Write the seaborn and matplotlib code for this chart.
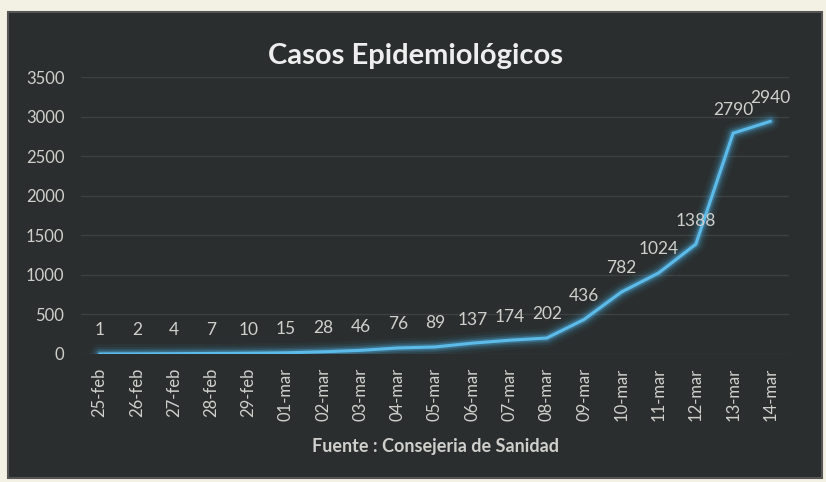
import pandas as pd
import matplotlib.pyplot as plt
import seaborn as sns
from matplotlib.patches import Rectangle

# Data
fechas = ['25-feb', '26-feb', '27-feb', '28-feb', '29-feb', '01-mar', '02-mar',
          '03-mar', '04-mar', '05-mar', '06-mar', '07-mar', '08-mar', '09-mar',
          '10-mar', '11-mar', '12-mar', '13-mar', '14-mar']
casos = [1, 2, 4, 7, 10, 15, 28, 46, 76, 89, 137, 174, 202, 436, 782, 1024,
         1388, 2790, 2940]
y_ticks = [0, 500, 1000, 1500, 2000, 2500, 3000, 3500]

df = pd.DataFrame({'Fecha': fechas, 'Casos': casos})
df['pos'] = range(len(df))

sns.set_style("dark")
plt.rcParams['font.family'] = ['Lato', 'DejaVu Sans']

bg = '#2a2e2e'
txt = '#cfd0cc'
blue = '#4aa6d6'

fig = plt.figure(figsize=(8.26, 4.82), dpi=100)
fig.patch.set_facecolor('#f3f1e4')
fig.patches.append(Rectangle((8 / 826, 4 / 482), 814 / 826, 466 / 482,
                             transform=fig.transFigure, facecolor=bg,
                             edgecolor='#555555', linewidth=1.5, zorder=-10))

ax = fig.add_axes([81 / 826, 128 / 482, 708 / 826, 277 / 482])
ax.set_facecolor(bg)
ax.patch.set_alpha(0)

# glow under the line
for lw, a in [(14, 0.06), (10, 0.1), (7, 0.18), (4.5, 0.35)]:
    sns.lineplot(data=df, x='pos', y='Casos', ax=ax, color=blue, linewidth=lw,
                 alpha=a, legend=False)
sns.lineplot(data=df, x='pos', y='Casos', ax=ax, color='#5cbbe8', linewidth=2.2)

for x, y in zip(df['pos'], df['Casos']):
    ax.annotate(str(y), (x, y), xytext=(0, 17), textcoords='offset points',
                ha='center', va='center', color=txt, fontsize=12.5)

ax.set_xlim(-0.5, len(fechas) - 0.5)
ax.set_ylim(0, 3500)
ax.set_yticks(y_ticks)
ax.set_yticklabels([str(t) for t in y_ticks], color=txt, fontsize=12)
ax.set_xticks(df['pos'])
ax.set_xticklabels(fechas, rotation=90, color=txt, fontsize=12)
ax.tick_params(axis='x', length=0, pad=10)
ax.tick_params(axis='y', length=0, pad=12)
ax.grid(axis='y', color='#3d4141', linewidth=1)
ax.grid(axis='x', visible=False)
for s in ax.spines.values():
    s.set_visible(False)

ax.set_ylabel('')
ax.set_xlabel('Fuente : Consejeria de Sanidad', color=txt, fontsize=13,
              fontweight='bold', labelpad=12)
fig.text(0.503, 0.884, 'Casos Epidemiológicos', ha='center', va='center',
         color='#eeeeee', fontsize=21, fontweight='bold')

fig.savefig('out.png', dpi=100, facecolor=fig.get_facecolor())
